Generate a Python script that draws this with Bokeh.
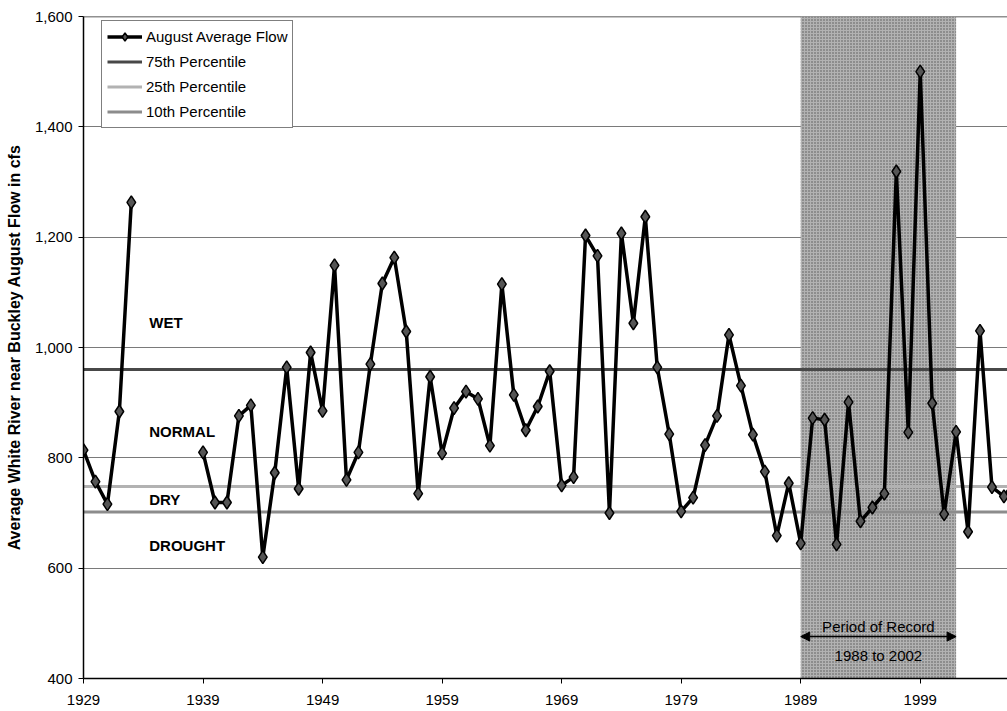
import math
from bokeh.plotting import figure
from bokeh.models import (Range1d, FixedTicker, NumeralTickFormatter, Span, BoxAnnotation,
                          Arrow, NormalHead, Label, Legend, LegendItem, ColumnDataSource)
from bokeh.core.properties import value
from bokeh.embed import file_html
from bokeh.resources import INLINE

NaN = float("nan")

# ---------------- data ----------------
years = list(range(1929, 2008))
flow = [814, 757, 716, 884, 1263, NaN, NaN, NaN, NaN, NaN,
        810, 719, 719, 876, 895, 620, 773, 964, 744, 991,
        885, 1149, 760, 810, 970, 1116, 1163, 1029, 735, 947,
        808, 890, 920, 907, 822, 1115, 914, 850, 893, 957,
        750, 765, 1203, 1166, 700, 1207, 1044, 1237, 964, 843,
        703, 728, 823, 876, 1023, 931, 842, 775, 659, 754,
        645, 872, 869, 643, 901, 685, 710, 735, 1319, 846,
        1500, 899, 698, 847, 666, 1030, 747, 730, 760]

percentile_labels = ["75th Percentile", "25th Percentile", "10th Percentile"]
percentile_values = [960, 748, 702]

zone_labels = ["WET", "NORMAL", "DRY", "DROUGHT"]
zone_values = [1045, 847, 725, 641]

x_ticks = [1929, 1939, 1949, 1959, 1969, 1979, 1989, 1999]
y_ticks = [400, 600, 800, 1000, 1200, 1400, 1600]

period_start = 1989
period_end = 2002
period_title = "Period of Record"
period_subtitle = "1988 to 2002"

FONT = "Liberation Sans"

# ---------------- figure ----------------
p = figure(width=1007, height=711, output_backend="svg", toolbar_location=None,
           x_range=Range1d(1929, 2006.3), y_range=Range1d(400, 1600),
           min_border_left=83, min_border_right=0, min_border_top=16, min_border_bottom=33)
p.outline_line_color = None
p.background_fill_color = "white"

# grid
p.xgrid.grid_line_color = None
p.ygrid.grid_line_color = "#7a7a7a"
p.ygrid.grid_line_width = 1
p.ygrid.ticker = FixedTicker(ticks=y_ticks)

# axes
p.xaxis.ticker = FixedTicker(ticks=x_ticks)
p.yaxis.ticker = FixedTicker(ticks=y_ticks)
p.yaxis.formatter = NumeralTickFormatter(format="0,0")
for ax in (p.xaxis[0], p.yaxis[0]):
    ax.major_tick_out = 5
    ax.major_tick_in = 0
    ax.minor_tick_line_color = None
    ax.major_label_text_font = FONT
    ax.major_label_text_font_size = "15px"
    ax.major_label_text_color = "black"
    ax.axis_line_color = "black"
    ax.axis_line_width = 1.5
    ax.major_tick_line_color = "black"
p.xaxis.major_label_standoff = 11
p.yaxis.major_label_standoff = 6
p.yaxis.axis_label = "Average White River near Buckley August Flow in cfs"
p.yaxis.axis_label_text_font = FONT
p.yaxis.axis_label_text_font_style = "bold"
p.yaxis.axis_label_text_font_size = "16px"
p.yaxis.axis_label_text_color = "black"
p.yaxis.axis_label_standoff = 9

# top border line at 1600
p.add_layout(Span(location=y_ticks[-1], dimension="width", line_color="#222222",
                  line_width=1.5, level="underlay"))

# shaded period of record
box = BoxAnnotation(left=period_start, right=period_end, fill_color="#b2b2b2", fill_alpha=1.0,
                    line_color=None, hatch_pattern="dot", hatch_color="#4a4a4a",
                    hatch_scale=3, hatch_weight=1.2, hatch_alpha=0.9, level="underlay")
p.add_layout(box)

# percentile lines
pct_colors = ["#484848", "#b2b2b2", "#8c8c8c"]
pct_renderers = []
for lab, val, col in zip(percentile_labels, percentile_values, pct_colors):
    r = p.line(x=[years[0], years[-1]], y=[val, val], line_color=col, line_width=3)
    pct_renderers.append(r)

# main series
src = ColumnDataSource(dict(year=years, flow=flow))
line_r = p.line("year", "flow", source=src, line_color="black", line_width=3.5)
pts_r = p.scatter("year", "flow", source=src, marker="diamond", size=13,
                  fill_color="#555555", line_color="black", line_width=1.5)

# zone labels
for lab, val in zip(zone_labels, zone_values):
    p.add_layout(Label(x=1934.5, y=val, text=lab, text_font=FONT, text_font_size="15px",
                       text_font_style="bold", text_baseline="middle", text_align="left",
                       text_color="black"))

# period of record annotation
mid = (period_start + period_end) / 2
p.add_layout(Arrow(start=NormalHead(size=9, fill_color="black", line_color="black"),
                   end=NormalHead(size=9, fill_color="black", line_color="black"),
                   x_start=period_start, y_start=476, x_end=period_end, y_end=476,
                   line_color="black", line_width=1.5))
p.add_layout(Label(x=mid, y=494, text=period_title, text_font=FONT, text_font_size="15px",
                   text_align="center", text_baseline="middle", text_color="black"))
p.add_layout(Label(x=mid, y=442, text=period_subtitle, text_font=FONT, text_font_size="15px",
                   text_align="center", text_baseline="middle", text_color="black"))

# legend
items = [LegendItem(label="August Average Flow", renderers=[line_r, pts_r])]
for lab, r in zip(percentile_labels, pct_renderers):
    items.append(LegendItem(label=lab, renderers=[r]))
legend = Legend(items=items, location=(18, 550), padding=5, spacing=4,
                label_height=21, glyph_height=21, glyph_width=35, label_standoff=4,
                label_text_font=FONT, label_text_font_size="15px", label_text_color="black",
                border_line_color="black", border_line_width=1,
                background_fill_color="white", background_fill_alpha=1.0, margin=0)
p.add_layout(legend)

open("out.html", "w").write(file_html(p, INLINE))
